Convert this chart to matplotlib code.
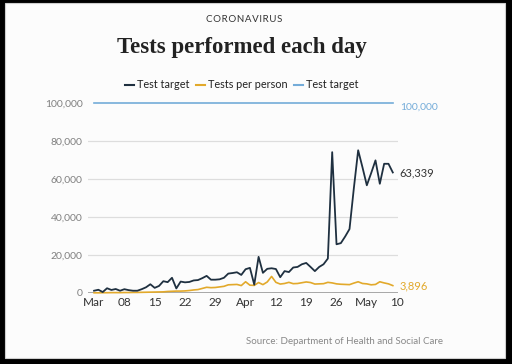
import numpy as np
import pandas as pd
import matplotlib
matplotlib.use("Agg")
import matplotlib.pyplot as plt
from matplotlib.patches import Rectangle
from matplotlib.lines import Line2D

# daily values, 1 Mar - 9 May 2020
dates = pd.date_range("2020-03-01", periods=70, freq="D")
tests_done = [1200, 1700, 500, 2500, 1600, 2100, 1200, 2000, 1500, 1200,
              1200, 2000, 3000, 4600, 2700, 3700, 6200, 5700, 8000, 2400,
              6000, 5600, 5800, 6600, 6800, 7800, 9000, 7000, 7000, 7200,
              8000, 10200, 10500, 10900, 9500, 12500, 13200, 4400, 19000, 10600,
              12700, 13000, 12600, 8300, 11500, 11000, 13400, 13700, 15100, 15800,
              13700, 11500, 13700, 15100, 18100, 74000, 25600, 26200, 29700, 33600,
              55000, 75000, 66000, 56600, 63000, 69700, 57400, 67900, 67900, 63339]
tests_person = [100, 100, 150, 150, 200, 200, 200, 250, 250, 300,
                300, 350, 400, 450, 500, 550, 600, 800, 900, 1000,
                1000, 1100, 1300, 1600, 1800, 2400, 3000, 2800, 2900, 3200,
                3500, 4300, 4400, 4500, 3900, 5900, 4100, 4000, 5500, 4400,
                5800, 8700, 5600, 4700, 5000, 5600, 4900, 5000, 5400, 5800,
                5500, 4700, 4800, 4900, 5600, 5300, 4800, 4600, 4500, 4400,
                5200, 5900, 5000, 4800, 4300, 4500, 5900, 5300, 4800, 3896]
target = [100000] * 70

tick_dates = pd.date_range("2020-03-01", "2020-05-10", freq="7D")
tick_labels = ["Mar", "08", "15", "22", "29", "Apr", "12", "19", "26", "May", "10"]
y_ticks = [0, 20000, 40000, 60000, 80000, 100000]

navy = "#1f3040"
gold = "#e2a92b"
blue = "#74acd9"
sans = ["Lato", "DejaVu Sans"]

W, H = 512, 364
fig = plt.figure(figsize=(W / 100, H / 100), dpi=100, facecolor="black")
fig.patches.append(Rectangle((5 / W, 6 / H), 500 / W, 355 / H, transform=fig.transFigure,
                             facecolor="#fcfcfc", edgecolor="#cfcfcf", lw=0.8, zorder=-5))

ax = fig.add_axes([88 / W, (H - 293) / H, 310 / W, 190.3 / H])
ax.set_facecolor("none")

ax.plot(dates, target, color=blue, lw=1.2, clip_on=False, zorder=3)
ax.plot(dates, tests_person, color=gold, lw=1.2, clip_on=False, zorder=3)
ax.plot(dates, tests_done, color=navy, lw=1.3, clip_on=False, zorder=4)

ax.set_ylim(0, 100000)
ax.set_xlim(dates[0] - pd.Timedelta(days=1.4), dates[0] + pd.Timedelta(days=70.2))
ax.set_yticks(y_ticks)
ax.set_yticklabels([f"{v:,}" for v in y_ticks], fontsize=7.5, color="#808080", family=sans)
ax.set_xticks(tick_dates)
ax.set_xticklabels(tick_labels, fontsize=8.5, color="#333333", family=sans)
ax.tick_params(length=0, axis="y", pad=4)
ax.tick_params(length=0, axis="x", pad=3)
for v in y_ticks[1:-1]:
    ax.axhline(v, color="#dddddd", lw=0.9, zorder=1)
ax.axhline(0, color="#999999", lw=1.2, zorder=2)
for s in ax.spines.values():
    s.set_visible(False)

# end labels
end = dates[-1] + pd.Timedelta(days=1.6)
ax.text(end, 100000, "100,000", color=blue, fontsize=7.5, family=sans, va="top", ha="left")
ax.text(end, tests_done[-1], f"{tests_done[-1]:,}", color="#333333", fontsize=8, family=sans,
        va="center", ha="left")
ax.text(end, tests_person[-1], f"{tests_person[-1]:,}", color=gold, fontsize=8, family=sans,
        va="center", ha="left")

fig.text(244 / W, 1 - 20 / H, "C O R O N A V I R U S".replace(" ", "\u200a"), ha="center",
         va="center", fontsize=7, color="#333333", family=sans)
fig.text(242 / W, 1 - 48 / H, "Tests performed each day", ha="center", va="center",
         fontsize=16.5, fontweight="bold", color="#222222", family="Liberation Serif")

handles = [Line2D([], [], color=navy, lw=1.5), Line2D([], [], color=gold, lw=1.5),
           Line2D([], [], color=blue, lw=1.5)]
leg = fig.legend(handles, ["Test target", "Tests per person", "Test target"], ncol=3,
                 loc="center", bbox_to_anchor=(242 / W, 1 - 85 / H), frameon=False,
                 handlelength=0.8, handletextpad=0.3, columnspacing=0.6,
                 prop={"family": sans, "size": 7.8})
for t in leg.get_texts():
    t.set_color("#222222")

fig.text(443 / W, 1 - 342 / H, "Source: Department of Health and Social Care", ha="right",
         va="center", fontsize=7, color="#888888", family=sans)

fig.savefig("out.png", dpi=100, facecolor=fig.get_facecolor())
